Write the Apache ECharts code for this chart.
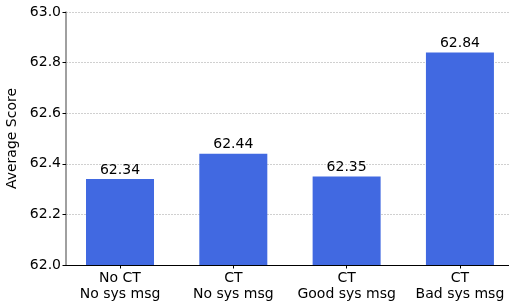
<!DOCTYPE html>
<html><head><meta charset="UTF-8">
<title>Average Score</title>
<script src="https://cdn.jsdelivr.net/npm/echarts@6/dist/echarts.min.js"></script>
<style>html,body{margin:0;padding:0;background:#fff;}</style>
</head>
<body>
<div id="g1" style="width:509px;height:306px;"></div>
<script type="text/javascript">
// categories and values
var categories = ['No CT\nNo sys msg', 'CT\nNo sys msg', 'CT\nGood sys msg', 'CT\nBad sys msg'];
var scores = [62.34, 62.44, 62.35, 62.84];
var positions = [0, 1, 2, 3];

var font = 'DejaVu Sans';
var chart = echarts.init(document.getElementById('g1'));

var barData = scores.map(function (v, i) { return [positions[i], v]; });

chart.setOption({
    animation: false,
    grid: {left: 66, right: 0, top: 12, bottom: 41, containLabel: false, outerBoundsMode: 'none'},
    xAxis: {
        type: 'value',
        min: -0.4766,
        max: 3.433,
        axisLine: {show: true, onZero: false, lineStyle: {color: '#000', width: 1}},
        axisTick: {show: true, length: 3.5, lineStyle: {color: '#000'}, customValues: positions},
        axisLabel: {
            customValues: positions,
            color: '#000', fontFamily: font, fontSize: 14, lineHeight: 16, margin: 5,
            formatter: function (v) { return categories[Math.round(v)]; }
        },
        splitLine: {show: false}
    },
    yAxis: {
        type: 'value',
        min: 62.0,
        max: 63.0,
        interval: 0.2,
        name: 'Average Score',
        nameLocation: 'middle',
        nameGap: 46,
        nameTextStyle: {color: '#000', fontFamily: font, fontSize: 14},
        axisLine: {show: true, onZero: false, lineStyle: {color: '#808080', width: 1.5}},
        axisTick: {show: true, length: 3.5, lineStyle: {color: '#000'}},
        axisLabel: {
            color: '#000', fontFamily: font, fontSize: 14, margin: 5,
            formatter: function (v) { return v.toFixed(1); }
        },
        splitLine: {show: true, lineStyle: {color: '#c4c4c4', type: [2, 1], width: 0.8}}
    },
    series: [{
        type: 'bar',
        data: barData,
        barWidth: 68,
        itemStyle: {color: '#4169E1'},
        label: {
            show: true, position: 'top', distance: 2,
            color: '#000', fontFamily: font, fontSize: 14,
            formatter: function (p) { return p.value[1].toFixed(2); }
        }
    }]
});
</script>
</body></html>
